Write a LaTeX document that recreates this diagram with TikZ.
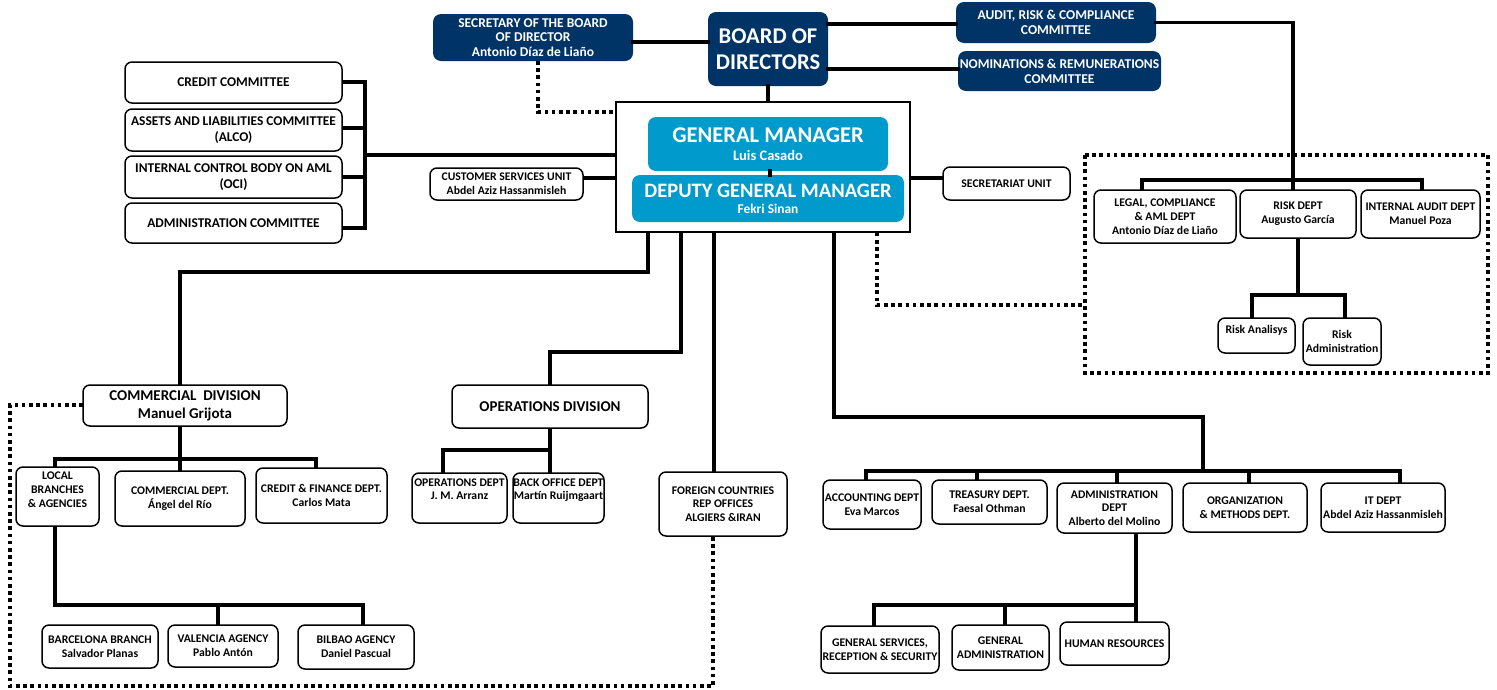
\documentclass[tikz,border=0pt]{standalone}
\usepackage{fontspec}
\setmainfont{Carlito}
\definecolor{navy}{RGB}{0,51,102}
\definecolor{gmblue}{RGB}{0,154,204}
\tikzset{
  box/.style={draw=black, line width=1.5pt, rounded corners=7pt, fill=white, align=center, inner sep=0pt, font=\bfseries\fontsize{11.7}{13.8}\selectfont},
  cbox/.style={box, font=\bfseries\fontsize{13.4}{16}\selectfont},
  dbox/.style={box, font=\bfseries\fontsize{15}{18}\selectfont},
  navybox/.style={fill=navy, draw=none, rounded corners=8pt, text=white, align=center, inner sep=0pt, font=\bfseries\fontsize{13.5}{14.8}\selectfont},
  gmbox/.style={fill=gmblue, draw=none, rounded corners=8pt, text=white, align=center, inner sep=0pt, font=\bfseries},
  conn/.style={line width=3.8pt, line cap=rect},
  dotline/.style={line width=3.5pt, dash pattern=on 3.6pt off 3.6pt},
}
\newcommand{\bx}[6]{\node[#1, minimum width=#4pt, minimum height=#5pt] (#2) at (#3) {#6};}
\begin{document}
\begin{tikzpicture}[x=1pt,y=-1pt]
\useasboundingbox (0,0) rectangle (1497,689);
\fill[white] (0,0) rectangle (1497,689);

% dashed groups
\draw[dotline] (1085,155) rectangle (1488,373);

% central outer box
\node[draw=black, line width=1.5pt, fill=white, minimum width=294pt, minimum height=130pt, inner sep=0pt] (central) at (763,167) {};

% junctions
\coordinate (jsec) at (538,112);
\coordinate (jcom) at (365,155);
\coordinate (jaud) at (1293,180);
\coordinate (jrisk) at (1298,295);
\coordinate (jc1) at (180,272);
\coordinate (jc2) at (550,352);
\coordinate (jc4) at (1203,417);
\coordinate (jdot) at (877,305);

\bx{navybox}{sec}{533,37.5}{200}{47}{SECRETARY OF THE BOARD\\OF DIRECTOR\\Antonio Díaz de Liaño}
\node[navybox, font=\bfseries\fontsize{22.5}{26.5}\selectfont, minimum width=120pt, minimum height=74pt] (board) at (768,49) {BOARD OF\\DIRECTORS};
\bx{navybox}{audit}{1056,22.5}{200}{41}{AUDIT, RISK \& COMPLIANCE\\COMMITTEE}
\bx{navybox}{nom}{1059.5,71}{203}{40}{NOMINATIONS \& REMUNERATIONS\\COMMITTEE}

\draw[conn] (sec.east |- 0,42) -- (board.west |- 0,42);
\draw[conn] (board.east |- 0,24) -- (audit.west |- 0,24);
\draw[conn] (board.east |- 0,69) -- (nom.west |- 0,69);
\draw[conn] (board.south) -- (board.south |- central.north);
\draw[conn] (audit.east) -| (jaud);
\draw[conn] (1142,190) |- (jaud) -| (1422,190);
\draw[conn] (jaud) -- (1293,190);

% committees
\draw[conn] (342,82) -| (jcom);
\draw[conn] (342,128) -- (365,128);
\draw[conn] (342,177) -- (365,177);
\draw[conn] (342,228) -| (jcom);
\draw[conn] (jcom) -- (central.west |- jcom);
\draw[conn] (583,178) -- (central.west |- 0,178);
\draw[conn] (central.east |- 0,178) -- (943,178);
\draw[dotline] (538,61) -- (jsec) -- (central.west |- jsec);

% bottom from central
\draw[conn] (central.south -| 648,0) |- (jc1) -- (180,385);
\draw[conn] (central.south -| 681,0) |- (jc2) -- (550,385);
\draw[conn] (central.south -| 714,0) -- (714,472);
\draw[conn] (central.south -| 834,0) |- (jc4) -- (1203,471);
\draw[dotline] (central.south -| 877,0) |- (jdot) -- (1085,305);

% risk sub
\draw[conn] (1298,238) -- (jrisk);
\draw[conn] (1252,318) |- (jrisk) -| (1345,318);

% commercial
\draw[dotline] (83,405) -- (10,405) -- (10,686) -- (713,686) -- (713,536);
\draw[conn] (180,426) -- (180,459);
\draw[conn] (55,467) |- (180,459) -| (316,468);
\draw[conn] (180,459) -- (180,471);
\draw[conn] (55,526) -- (55,605) -| (363,625);
\draw[conn] (218,605) -- (218,625);

% operations
\draw[conn] (550,428) -- (550,450);
\draw[conn] (443,473) |- (550,450) -- (550,473);

% right depts
\draw[conn] (866,480) |- (1203,471) -| (1400,483);
\draw[conn] (977,471) -- (977,480);
\draw[conn] (1117,471) -- (1117,483);
\draw[conn] (1249,471) -- (1249,483);
\draw[conn] (1136,533) -- (1136,605);
\draw[conn] (874,626) |- (1136,605) -- (1136,622);
\draw[conn] (1005,605) -- (1005,625);

% nodes
\bx{gmbox}{gm}{768,144}{240}{54}{\fontsize{22.5}{25}\selectfont GENERAL MANAGER\\[6pt]\fontsize{14.5}{18}\selectfont Luis Casado}
\bx{gmbox}{dgm}{768,198.5}{272}{47}{\fontsize{20.5}{22}\selectfont DEPUTY GENERAL MANAGER\\[4pt]\fontsize{13.4}{17}\selectfont Fekri Sinan}
\draw[conn] (gm.south -| 770,0) -- (dgm.north -| 770,0);

\bx{box}{secunit}{1006.5,183.5}{127}{33}{SECRETARIAT UNIT}
\bx{cbox}{credit}{233.5,82.5}{217}{41}{CREDIT COMMITTEE}
\bx{cbox}{alco}{233.5,130}{217}{42}{ASSETS AND LIABILITIES COMMITTEE\\(ALCO)}
\bx{cbox}{oci}{233.5,177}{217}{42}{INTERNAL CONTROL BODY ON AML\\(OCI)}
\bx{cbox}{admc}{233.5,223}{217}{40}{ADMINISTRATION COMMITTEE}
\bx{box}{cust}{506.5,184}{153}{32}{CUSTOMER SERVICES UNIT\\Abdel Aziz Hassanmisleh}

\bx{box}{legal}{1165,216.5}{142}{53}{LEGAL, COMPLIANCE\\\& AML DEPT\\Antonio Díaz de Liaño}
\bx{box}{risk}{1298,214}{116}{48}{RISK DEPT\\Augusto García}
\bx{box}{iaudit}{1420.5,214}{119}{48}{INTERNAL AUDIT DEPT\\Manuel Poza}
\bx{box}{ranal}{1256.5,335.5}{77}{35}{\raisebox{13pt}{Risk Analisys}}
\bx{box}{radm}{1342,341.5}{78}{47}{Risk\\Administration}

\bx{dbox}{comdiv}{185,405.5}{204}{41}{COMMERCIAL~ DIVISION\\Manuel Grijota}
\bx{box}{local}{57.5,496.5}{83}{59}{LOCAL\\BRANCHES\\\& AGENCIES\\[0pt]}
\bx{box}{comdept}{180,498.5}{130}{55}{COMMERCIAL DEPT.\\Ángel del Río}
\bx{box}{credfin}{321.5,495.5}{131}{55}{CREDIT \& FINANCE DEPT.\\Carlos Mata}
\bx{box}{barc}{100,646.5}{116}{43}{BARCELONA BRANCH\\Salvador Planas}
\bx{box}{val}{223,646}{110}{42}{VALENCIA AGENCY\\Pablo Antón}
\bx{box}{bil}{356,647}{116}{44}{BILBAO AGENCY\\Daniel Pascual}

\bx{dbox}{opdiv}{550,406.5}{196}{43}{OPERATIONS DIVISION}
\bx{box}{opdept}{459.5,498}{95}{50}{OPERATIONS DEPT\\J. M. Arranz\\[4pt]}
\bx{box}{backoff}{558.5,498}{91}{50}{BACK OFFICE DEPT\\Martín Ruijmgaart\\[4pt]}
\bx{box}{foreign}{723,504}{128}{64}{FOREIGN COUNTRIES\\REP OFFICES\\ALGIERS \&IRAN}

\bx{box}{acc}{872,504.5}{98}{49}{ACCOUNTING DEPT\\Eva Marcos}
\bx{box}{treas}{989.5,502}{115}{44}{TREASURY DEPT.\\Faesal Othman}
\bx{box}{admdept}{1114.5,508}{115}{50}{ADMINISTRATION\\DEPT\\Alberto del Molino}
\bx{box}{org}{1245,507.5}{124}{49}{ORGANIZATION\\\& METHODS DEPT.}
\bx{box}{it}{1383,507.5}{124}{49}{IT DEPT\\Abdel Aziz Hassanmisleh}
\bx{box}{gensrv}{880,649.5}{118}{47}{GENERAL SERVICES,\\RECEPTION \& SECURITY}
\bx{box}{genadm}{1000.5,647.5}{97}{45}{GENERAL\\ADMINISTRATION}
\bx{box}{hr}{1114.5,643.5}{109}{43}{HUMAN RESOURCES}
\end{tikzpicture}
\end{document}
